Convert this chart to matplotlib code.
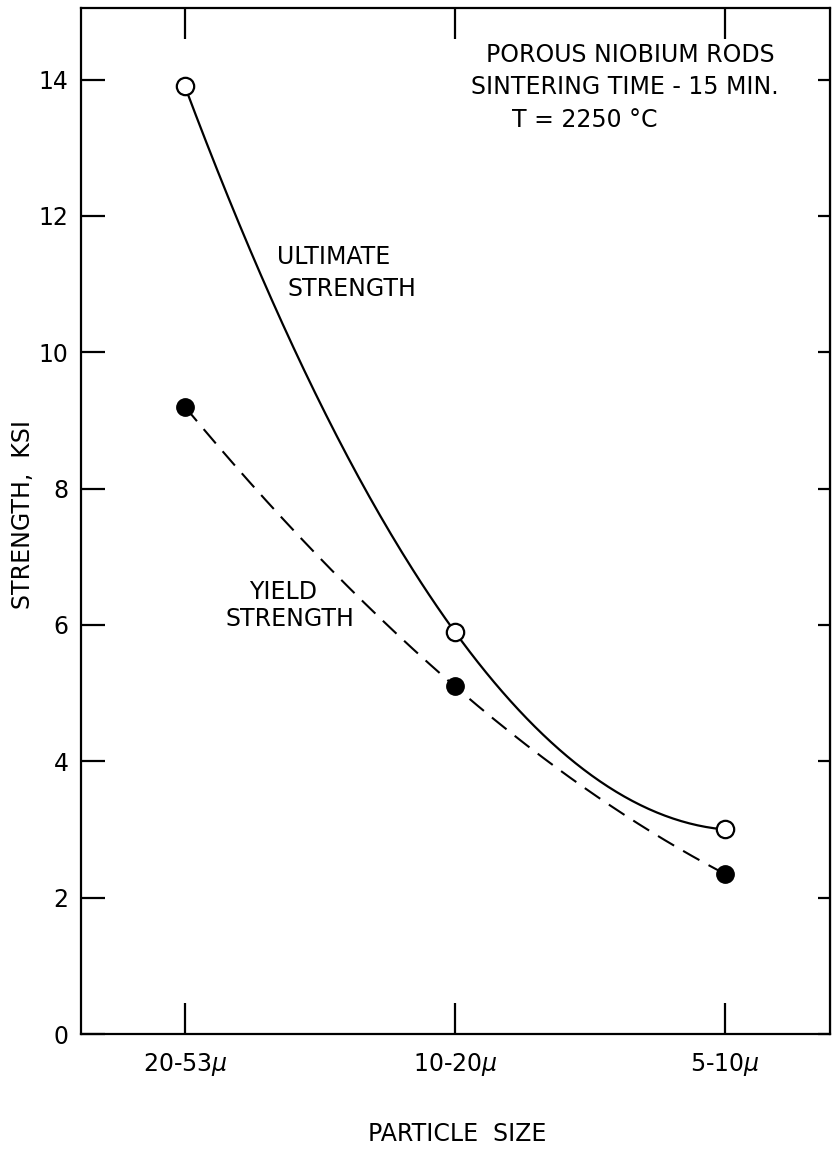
import matplotlib
matplotlib.use('Agg')
import matplotlib.pyplot as plt
import numpy as np

# particle size categories (coarse -> fine)
sizes = ['20-53$\\mu$', '10-20$\\mu$', '5-10$\\mu$']
ultimate = [13.9, 5.9, 3.0]
yield_str = [9.2, 5.1, 2.35]
yticks = [0, 2, 4, 6, 8, 10, 12, 14]

plt.rcParams['font.family'] = ['DejaVu Sans']
plt.rcParams['mathtext.fontset'] = 'dejavusans'

fig = plt.figure(figsize=(8.36, 11.53), dpi=100)
ax = fig.add_axes([0.0969, 0.1032, 0.8959, 0.8899])

x = np.arange(len(sizes))
xs = np.linspace(0, len(sizes) - 1, 200)

# smooth curves drawn as quadratic fits through the points
u_fit = np.polyval(np.polyfit(x, ultimate, 2), xs)
y_fit = np.polyval(np.polyfit(x, yield_str, 2), xs)

ax.plot(xs, u_fit, color='black', lw=1.6, zorder=2)
ax.plot(xs, y_fit, color='black', lw=1.5, dashes=(9, 5), zorder=2)
ax.plot(x, ultimate, 'o', ms=12.5, mfc='white', mec='black', mew=1.6, zorder=3)
ax.plot(x, yield_str, 'o', ms=12.5, mfc='black', mec='black', zorder=3)

ax.set_xlim(-0.385, 2.39)
ax.set_ylim(0, 15.05)
ax.set_xticks(x)
ax.set_xticklabels(sizes)
ax.set_yticks(yticks)

for sp in ax.spines.values():
    sp.set_linewidth(1.6)

ax.tick_params(axis='both', direction='in', width=1.6, labelsize=17)
ax.tick_params(axis='y', length=17, pad=9)
ax.tick_params(axis='x', length=22, pad=12, top=True)

sec = ax.secondary_yaxis('right')
sec.set_yticks(yticks)
sec.tick_params(direction='in', length=9, width=1.6, labelright=False)

ax.set_ylabel('STRENGTH,  KSI', fontsize=17)
ax.yaxis.label.set_va('center')
ax.yaxis.set_label_coords(-0.077, 0.506)
ax.set_xlabel('PARTICLE  SIZE', fontsize=17)
ax.xaxis.label.set_va('center')
ax.xaxis.set_label_coords(0.502, -0.0975)

ax.text(0.733, 0.954, 'POROUS NIOBIUM RODS', transform=ax.transAxes,
        ha='center', va='center', fontsize=17)
ax.text(0.726, 0.923, 'SINTERING TIME - 15 MIN.', transform=ax.transAxes,
        ha='center', va='center', fontsize=17)
ax.text(0.673, 0.891, 'T = 2250 °C', transform=ax.transAxes,
        ha='center', va='center', fontsize=17)

ax.text(0.552, 11.40, 'ULTIMATE', ha='center', va='center', fontsize=17)
ax.text(0.619, 10.93, 'STRENGTH', ha='center', va='center', fontsize=17)
ax.text(0.363, 6.49, 'YIELD', ha='center', va='center', fontsize=17)
ax.text(0.389, 6.08, 'STRENGTH', ha='center', va='center', fontsize=17)

fig.savefig('out.png', dpi=100)
